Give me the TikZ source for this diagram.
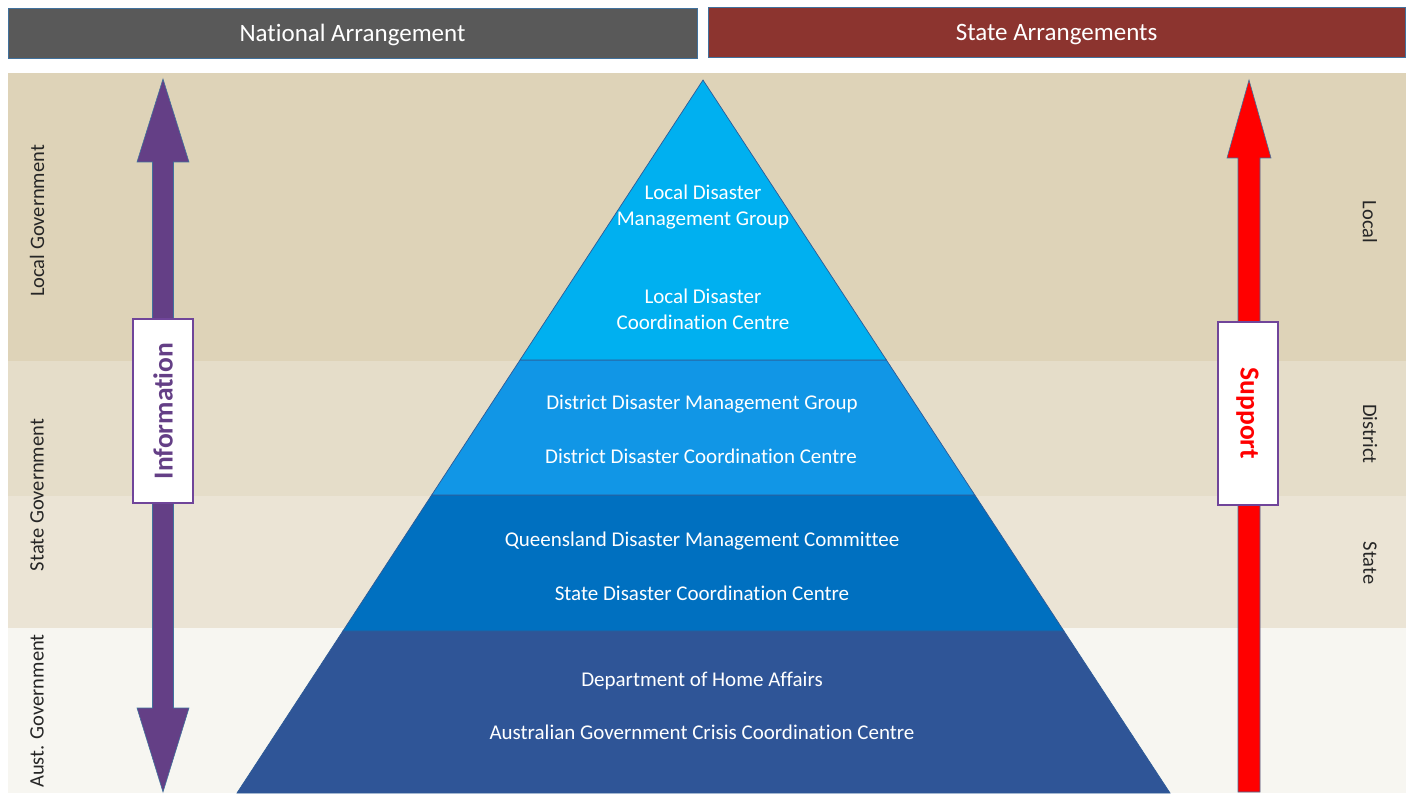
\documentclass[tikz,border=0pt]{standalone}
\usepackage{fontspec}
\setmainfont{Carlito}[Ligatures=NoCommon]
\definecolor{natgray}{HTML}{595959}
\definecolor{statered}{HTML}{8C342F}
\definecolor{edgeblue}{HTML}{41719C}
\definecolor{bandlocal}{HTML}{DED3B8}
\definecolor{banddistrict}{HTML}{E5DDC9}
\definecolor{bandstate}{HTML}{EBE4D5}
\definecolor{bandaust}{HTML}{F7F6F1}
\definecolor{tierlocal}{HTML}{00B0F0}
\definecolor{tierdistrict}{HTML}{1196E6}
\definecolor{tierstate}{HTML}{0070C0}
\definecolor{tieraust}{HTML}{2F5597}
\definecolor{tieredge}{HTML}{2E5A96}
\definecolor{infopurple}{HTML}{643F86}
\definecolor{boxpurple}{HTML}{70459A}
\definecolor{labelgray}{HTML}{262626}
\begin{document}
\begin{tikzpicture}[x=1pt,y=-1pt,
  header/.style={draw=edgeblue, line width=0.8pt, inner sep=0pt, text depth=0pt,
    minimum height=50pt, text=white, font=\fontsize{25}{29}\selectfont},
  tiertext/.style={text=white, align=center, font=\fontsize{21}{26}\selectfont},
  sidelabel/.style={text=labelgray, font=\fontsize{20.5}{24}\selectfont},
  tier/.style={draw=tieredge, line width=0.7pt},
  flowbox/.style={draw=boxpurple, line width=2pt, fill=white,
    minimum width=183pt, minimum height=60pt, inner sep=0pt,
    font=\bfseries\fontsize{27.5}{31}\selectfont}]
\useasboundingbox (0,0) rectangle (1411,794);

% headers
\node[header, fill=natgray, minimum width=689pt] (national) at (352.5,33) {National Arrangement};
\node[header, fill=statered, minimum width=697pt] (state) at (1056.5,32.5) {State Arrangements};

% horizontal bands
\fill[bandlocal] (8,73) rectangle (1406,361);
\fill[banddistrict] (8,361) rectangle (1406,496);
\fill[bandstate] (8,496) rectangle (1406,628);
\fill[bandaust] (8,628) rectangle (1406,793);

% pyramid tiers
\filldraw[tier, fill=tieraust] (342.9,631) -- (1063.9,631) -- (1170,793) -- (237,793) -- cycle;
\filldraw[tier, fill=tierstate] (431.7,495) -- (974.8,495) -- (1063.9,631) -- (342.9,631) -- cycle;
\filldraw[tier, fill=tierdistrict] (520,360) -- (886.4,360) -- (974.8,495) -- (431.7,495) -- cycle;
\filldraw[tier, fill=tierlocal] (703,80) -- (886.4,360) -- (520,360) -- cycle;

% tier texts
\node[tiertext] (ldmg) at (703,207.5) {Local Disaster\\Management Group};
\node[tiertext] (ldcc) at (703,309.5) {Local Disaster\\Coordination Centre};
\node[tiertext] (ddmg) at (702,404) {District Disaster Management Group};
\node[tiertext] (ddcc) at (701,456) {District Disaster Coordination Centre};
\node[tiertext] (qdmc) at (702,541) {Queensland Disaster Management Committee};
\node[tiertext] (sdcc) at (702,593) {State Disaster Coordination Centre};
\node[tiertext] (dha) at (702,681) {Department of Home Affairs};
\node[tiertext] (agccc) at (702,732) {Australian Government Crisis Coordination Centre};

% side labels
\node[sidelabel, rotate=90] (lgov) at (37,221) {Local Government};
\node[sidelabel, rotate=90] (sgov) at (37,495) {State Government};
\node[sidelabel, rotate=90] (agov) at (37,711) {Aust. Government};
\node[sidelabel, rotate=-90] (llocal) at (1370,222) {Local};
\node[sidelabel, rotate=-90] (ldistrict) at (1370,434) {District};
\node[sidelabel, rotate=-90] (lstate) at (1370,563) {State};

% information double arrow
\filldraw[fill=infopurple, draw=edgeblue, line width=0.6pt]
  (163,79) -- (189,162) -- (173.5,162) -- (173.5,708) -- (189,708) -- (163,792)
  -- (137,708) -- (152.5,708) -- (152.5,162) -- (137,162) -- cycle;
% support arrow
\filldraw[fill=red, draw=edgeblue, line width=0.6pt]
  (1249,80) -- (1271,158) -- (1260,158) -- (1260,792) -- (1238,792)
  -- (1238,158) -- (1227,158) -- cycle;

% arrow labels
\node[flowbox, rotate=90, text=infopurple] (info) at (163,411) {Information};
\node[flowbox, rotate=-90, text=red] (support) at (1247.5,413.5) {Support};
\end{tikzpicture}
\end{document}
